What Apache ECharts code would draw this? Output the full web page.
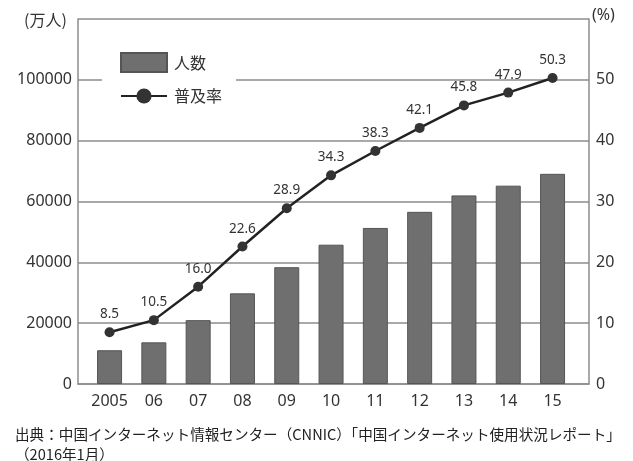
<!DOCTYPE html>
<html>
<head>
<meta charset="utf-8">
<script src="https://cdn.jsdelivr.net/npm/echarts@6/dist/echarts.min.js"></script>
<style>
  html, body { margin: 0; padding: 0; background: #fff; }
  #chart { width: 633px; height: 461px; }
</style>
</head>
<body>
<div id="chart"></div>
<script>
// 中国のインターネット利用者数（万人）と普及率（%）
const years = ['2005', '06', '07', '08', '09', '10', '11', '12', '13', '14', '15'];
const users = [11100, 13700, 21000, 29800, 38400, 45800, 51300, 56600, 62000, 65200, 69100];
const rate = [8.5, 10.5, 16.0, 22.6, 28.9, 34.3, 38.3, 42.1, 45.8, 47.9, 50.3];
const leftTicks = [0, 20000, 40000, 60000, 80000, 100000];
const rightTicks = [0, 10, 20, 30, 40, 50];
const usersName = '人数';
const rateName = '普及率';
const leftUnit = '(万人)';
const rightUnit = '(%)';
const sourceNote = '出典：中国インターネット情報センター（CNNIC）「中国インターネット使用状況レポート」\n（2016年1月）';

const FONT = '"Noto Sans", "Noto Sans CJK JP", sans-serif';
const CJK = '"Noto Sans CJK JP", "Noto Sans", sans-serif';
const TXT = '#333';
const GRID = '#8c8c8c';

const chart = echarts.init(document.getElementById('chart'), null, { renderer: 'canvas' });

const leftMax = 120000, rightMax = 60;

chart.setOption({
  animation: false,
  backgroundColor: '#fff',
  grid: [
    // frame: gridlines, outer axes and tick labels
    { left: 78, right: 44, top: 19, bottom: 77 },
    // data: category bands for bars and line
    { left: 87.4, width: 487.3, top: 19, bottom: 77 }
  ],
  legend: {
    orient: 'vertical',
    left: 102,
    top: 44,
    padding: [8, 14, 8, 18],
    backgroundColor: '#fff',
    itemWidth: 46,
    itemHeight: 19,
    itemGap: 15,
    textStyle: { fontFamily: CJK, fontSize: 16, color: TXT, padding: [0, 0, 0, 2] },
    data: [
      { name: usersName, icon: 'rect' },
      { name: rateName }
    ]
  },
  xAxis: [
    {
      gridIndex: 0, type: 'value', min: 0, max: 1,
      axisLine: { show: true, lineStyle: { color: GRID, width: 1.5 } },
      axisTick: { show: false }, axisLabel: { show: false }, splitLine: { show: false }
    },
    {
      gridIndex: 1, type: 'category', data: years, boundaryGap: true,
      axisLine: { show: false }, axisTick: { show: false },
      axisLabel: { interval: 0, color: TXT, fontFamily: FONT, fontSize: 16, margin: 9 }
    }
  ],
  yAxis: [
    {
      gridIndex: 0, type: 'value', position: 'left', min: 0, max: leftMax, interval: 20000,
      axisLine: { show: true, lineStyle: { color: GRID, width: 1.5 } },
      axisTick: { show: false },
      axisLabel: {
        color: TXT, fontFamily: FONT, fontSize: 16, margin: 6,
        formatter: v => leftTicks.includes(v) ? String(v) : ''
      },
      splitLine: { show: true, lineStyle: { color: GRID, width: 1.5 } }
    },
    {
      gridIndex: 0, type: 'value', position: 'right', min: 0, max: rightMax, interval: 10,
      axisLine: { show: true, lineStyle: { color: GRID, width: 1.5 } },
      axisTick: { show: false },
      axisLabel: {
        color: TXT, fontFamily: FONT, fontSize: 16, margin: 7,
        formatter: v => rightTicks.includes(v) ? String(v) : ''
      },
      splitLine: { show: false }
    },
    {
      gridIndex: 1, type: 'value', min: 0, max: leftMax, show: false
    },
    {
      gridIndex: 1, type: 'value', min: 0, max: rightMax, show: false
    }
  ],
  graphic: [
    {
      type: 'text', left: 24, top: 12,
      style: { text: leftUnit, font: '16px ' + CJK, fill: TXT }
    },
    {
      type: 'text', left: 592, top: 7,
      style: { text: rightUnit, font: '16px ' + FONT, fill: TXT }
    },
    {
      type: 'text', left: 15, top: 424,
      style: { text: sourceNote, font: '14.6px ' + CJK, fill: '#222', lineHeight: 20 }
    }
  ],
  series: [
    {
      name: usersName, type: 'bar', xAxisIndex: 1, yAxisIndex: 2,
      data: users, barWidth: 25,
      itemStyle: { color: '#6f6f6f', borderColor: '#555', borderWidth: 1 },
      z: 2
    },
    {
      name: rateName, type: 'line', xAxisIndex: 1, yAxisIndex: 3,
      data: rate,
      symbol: 'circle', symbolSize: 10,
      lineStyle: { color: '#222', width: 2.5 },
      itemStyle: { color: '#333' },
      label: {
        show: true, position: 'top', distance: 6,
        color: TXT, fontFamily: FONT, fontSize: 13.5,
        formatter: p => p.value.toFixed(1)
      },
      z: 3
    }
  ]
});
</script>
</body>
</html>
